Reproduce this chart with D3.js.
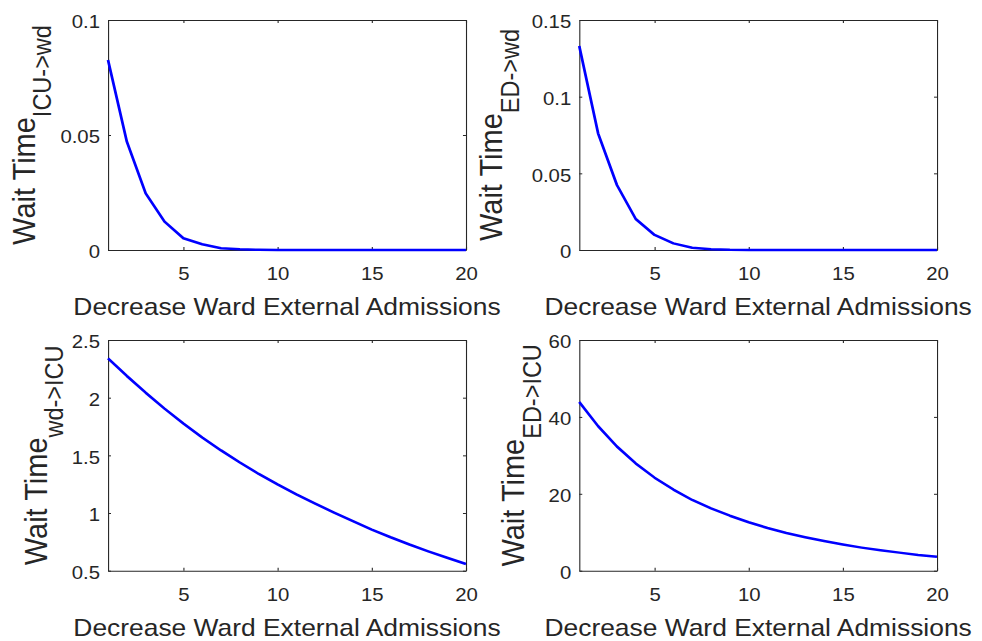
<!DOCTYPE html>
<html>
<head>
<meta charset="utf-8">
<script src="https://cdn.jsdelivr.net/npm/d3@7"></script>
<style>
  body { margin: 0; background: #fff; }
  svg text { font-family: "Liberation Sans", Arial, Helvetica, sans-serif; fill: #262626; }
</style>
</head>
<body>
<div id="chart"></div>
<script>
// data
const admissions = [1, 2, 3, 4, 5, 6, 7, 8, 9, 10, 11, 12, 13, 14, 15, 16, 17, 18, 19, 20];
const waitIcuToWard = [0.0826, 0.0471, 0.0246, 0.0123, 0.0051, 0.0025, 0.0008, 0.0003, 0.0001, 0, 0, 0, 0, 0, 0, 0, 0, 0, 0, 0];
const waitEdToWard = [0.133, 0.0761, 0.0424, 0.0202, 0.0098, 0.0043, 0.0015, 0.0005, 0.0001, 0, 0, 0, 0, 0, 0, 0, 0, 0, 0, 0];
const waitWardToIcu = [2.341, 2.188, 2.043, 1.905, 1.776, 1.655, 1.543, 1.438, 1.339, 1.248, 1.162, 1.081, 1.004, 0.929, 0.857, 0.790, 0.727, 0.668, 0.612, 0.558];
const waitEdToIcu = [43.9, 37.6, 32.3, 27.9, 24.2, 21.1, 18.4, 16.2, 14.3, 12.6, 11.1, 9.8, 8.7, 7.7, 6.8, 6.0, 5.3, 4.7, 4.1, 3.6];

const xTicks = [5, 10, 15, 20];
const yTicksIcuToWard = [0, 0.05, 0.1];
const yTicksEdToWard = [0, 0.05, 0.1, 0.15];
const yTicksWardToIcu = [0.5, 1, 1.5, 2, 2.5];
const yTicksEdToIcu = [0, 20, 40, 60];

const xLabel = "Decrease Ward External Admissions";

// the original figure is a bit wider than tall, stretch everything by SX
const SX = 1.1;
const W = 982, H = 641;

const svg = d3.select("#chart")
    .append("svg")
    .attr("width", W)
    .attr("height", H)
    .attr("viewBox", "0 0 " + (W / SX) + " " + H)
    .attr("preserveAspectRatio", "none");

const panels = [
    { values: waitIcuToWard, ticks: yTicksIcuToWard, domain: [0, 0.1], sub: "ICU->wd",
      left: 98.2, right: 423.6, top: 20, bottom: 250, labelOff: 66.4 },
    { values: waitEdToWard, ticks: yTicksEdToWard, domain: [0, 0.15], sub: "ED->wd",
      left: 526.6, right: 851.8, top: 20, bottom: 250, labelOff: 70.2 },
    { values: waitWardToIcu, ticks: yTicksWardToIcu, domain: [0.5, 2.5], sub: "wd->ICU",
      left: 98.2, right: 423.6, top: 340, bottom: 570.7, labelOff: 55.8 },
    { values: waitEdToIcu, ticks: yTicksEdToIcu, domain: [0, 60], sub: "ED->ICU",
      left: 526.6, right: 851.8, top: 340, bottom: 570.7, labelOff: 50 }
];

function drawPanel(p) {
    let g = svg.append("g");

    let x = d3.scaleLinear().domain([1, 20]).range([p.left, p.right]);
    let y = d3.scaleLinear().domain(p.domain).range([p.bottom, p.top]);

    // bottom axis with labels
    g.append("g")
        .attr("transform", "translate(0," + p.bottom + ")")
        .call(d3.axisBottom(x).tickValues(xTicks).tickSizeInner(-3).tickSizeOuter(0).tickPadding(17));
    // top mirror
    g.append("g")
        .attr("transform", "translate(0," + p.top + ")")
        .call(d3.axisTop(x).tickValues(xTicks).tickSizeInner(-3).tickSizeOuter(0).tickFormat(""));
    // left axis with labels
    g.append("g")
        .attr("transform", "translate(" + p.left + ",0)")
        .call(d3.axisLeft(y).tickValues(p.ticks).tickSizeInner(-3 / SX).tickSizeOuter(0)
            .tickPadding(7.3).tickFormat(d => String(d)))
        .selectAll("text").attr("dy", "0.43em");
    // right mirror
    g.append("g")
        .attr("transform", "translate(" + p.right + ",0)")
        .call(d3.axisRight(y).tickValues(p.ticks).tickSizeInner(-3 / SX).tickSizeOuter(0).tickFormat(""));

    g.selectAll(".domain, .tick line")
        .attr("stroke", "#262626")
        .attr("stroke-width", 1);
    g.selectAll(".tick text")
        .attr("fill", "#262626")
        .style("font-size", "18.5px");

    // the curve
    let line = d3.line()
        .x((d, i) => x(admissions[i]))
        .y(d => y(d));
    g.append("path")
        .datum(p.values)
        .attr("d", line)
        .attr("fill", "none")
        .attr("stroke", "#0000ff")
        .attr("stroke-width", 2.5)
        .attr("stroke-linejoin", "round");

    // x label
    g.append("text")
        .attr("x", (p.left + p.right) / 2)
        .attr("y", p.bottom + 65)
        .attr("text-anchor", "middle")
        .style("font-size", "24px")
        .text(xLabel);

    // y label with subscript
    let yl = g.append("text")
        .attr("transform", "translate(" + (p.left - p.labelOff) + "," + ((p.top + p.bottom) / 2) + ") rotate(-90)")
        .attr("text-anchor", "middle")
        .style("font-size", "29px");
    yl.append("tspan").text("Wait Time");
    yl.append("tspan").attr("dy", 15).style("font-size", "23.5px").text(p.sub);
}

panels.forEach(drawPanel);
</script>
</body>
</html>
